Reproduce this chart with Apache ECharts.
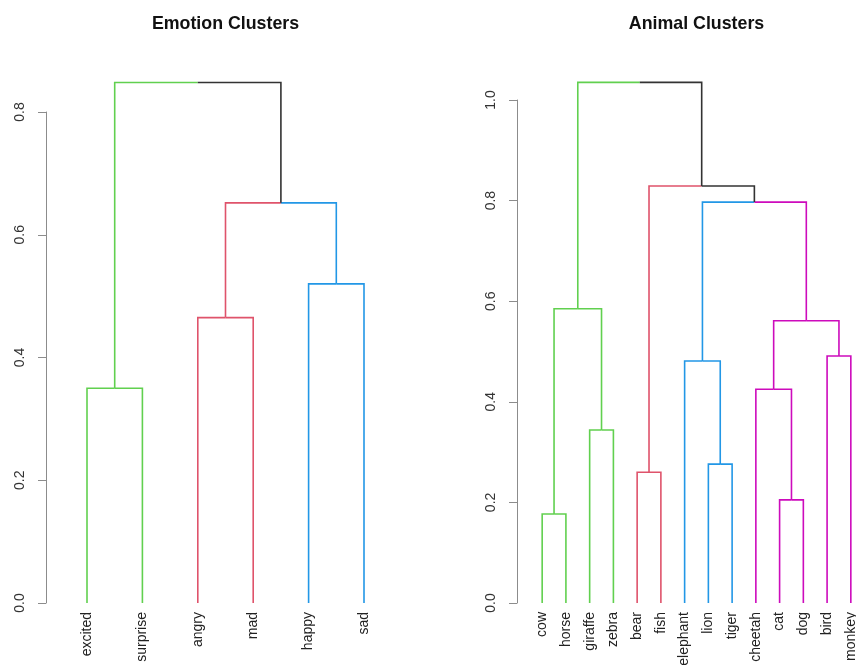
<!DOCTYPE html>
<html>
<head>
<meta charset="utf-8">
<script src="https://cdn.jsdelivr.net/npm/echarts@6/dist/echarts.min.js"></script>
<style>
  html, body { margin: 0; padding: 0; background: #ffffff; }
  #chart { width: 856px; height: 665px; }
</style>
</head>
<body>
<div id="chart"></div>
<script>
// ---- Emotion dendrogram (hclust-style merge table: negative = leaf, positive = earlier merge) ----
const emotionLabels  = ['excited', 'surprise', 'angry', 'mad', 'happy', 'sad'];
const emotionMerge   = [[-1, -2], [-3, -4], [-5, -6], [2, 3], [1, 4]];
const emotionHeights = [0.35, 0.465, 0.52, 0.652, 0.848];
const emotionGroups  = [0, 0, 1, 1, 2, 2];
const emotionTicks   = [0, 0.2, 0.4, 0.6, 0.8];

// ---- Animal dendrogram ----
const animalLabels  = ['cow', 'horse', 'giraffe', 'zebra', 'bear', 'fish', 'elephant',
                       'lion', 'tiger', 'cheetah', 'cat', 'dog', 'bird', 'monkey'];
const animalMerge   = [[-1, -2], [-11, -12], [-5, -6], [-8, -9], [-3, -4], [-10, 2], [-7, 4],
                       [-13, -14], [6, 8], [1, 5], [7, 9], [3, 11], [10, 12]];
const animalHeights = [0.177, 0.205, 0.26, 0.276, 0.344, 0.425, 0.481,
                       0.491, 0.561, 0.585, 0.797, 0.829, 1.035];
const animalGroups  = [0, 0, 0, 0, 1, 1, 2, 2, 2, 3, 3, 3, 3, 3];
const animalTicks   = [0, 0.2, 0.4, 0.6, 0.8, 1.0];

const branchColors = ['#61D04F', '#DF536B', '#2297E6', '#CD0BBC'];
const trunkColor   = '#333333';
const FONT = '"Liberation Sans", Arial, Helvetica, sans-serif';

// Turn a merge table into elbow edges: [parentX, parentH, childX, childH, colorGroup]
function buildEdges(merge, heights, groups) {
  const nodes = [];
  const info = ref => ref < 0
    ? { x: -ref, h: 0, group: groups[-ref - 1] }
    : nodes[ref - 1];
  const edges = [];
  merge.forEach((pair, k) => {
    const a = info(pair[0]), b = info(pair[1]);
    const x = (a.x + b.x) / 2, h = heights[k];
    [a, b].forEach(c => edges.push([x, h, c.x, c.h, c.group]));
    nodes.push({ x, h, group: a.group === b.group ? a.group : -1 });
  });
  return edges;
}

function renderEdge(params, api) {
  const p0 = api.coord([api.value(0), api.value(1)]);
  const p1 = api.coord([api.value(2), api.value(1)]);
  const p2 = api.coord([api.value(2), api.value(3)]);
  const g = api.value(4);
  return {
    type: 'polyline',
    shape: { points: [p0, p1, p2] },
    style: { stroke: g < 0 ? trunkColor : branchColors[g], lineWidth: 1.6, fill: null }
  };
}

function yAxisFor(gridIndex, ticks, offset) {
  return {
    type: 'value', gridIndex,
    min: ticks[0], max: ticks[ticks.length - 1], interval: ticks[1] - ticks[0],
    offset,
    axisLine: { show: true, lineStyle: { color: '#8c8c8c', width: 1 } },
    axisTick: { show: true, length: 8, lineStyle: { color: '#8c8c8c', width: 1 } },
    axisLabel: { rotate: 90, margin: 19, fontSize: 14, color: '#333', fontFamily: FONT,
                 formatter: v => v.toFixed(1) },
    splitLine: { show: false }
  };
}

function labelAxisFor(gridIndex, labels) {
  return {
    type: 'category', gridIndex, data: labels, boundaryGap: true, position: 'bottom',
    axisLine: { show: false }, axisTick: { show: false },
    axisLabel: { rotate: 90, margin: 9, fontSize: 14, color: '#222', interval: 0, fontFamily: FONT }
  };
}

function treeAxisFor(gridIndex, n) {
  return { type: 'value', gridIndex, min: 0.5, max: n + 0.5, show: false, position: 'bottom' };
}

const chart = echarts.init(document.getElementById('chart'), null, { renderer: 'canvas' });
chart.setOption({
  animation: false,
  backgroundColor: '#ffffff',
  textStyle: { fontFamily: FONT },
  title: [
    { text: 'Emotion Clusters', left: 225.5, top: 15, textAlign: 'center', padding: 0,
      textStyle: { fontSize: 17.8, fontWeight: 'bold', color: '#111', fontFamily: FONT } },
    { text: 'Animal Clusters', left: 696.5, top: 15, textAlign: 'center', padding: 0,
      textStyle: { fontSize: 17.8, fontWeight: 'bold', color: '#111', fontFamily: FONT } }
  ],
  grid: [
    { left: 59.3, width: 332.4, top: 112, bottom: 62, containLabel: false, outerBoundsMode: 'none' },
    { left: 530.3, width: 332.4, top: 100, bottom: 62, containLabel: false, outerBoundsMode: 'none' }
  ],
  xAxis: [
    labelAxisFor(0, emotionLabels),
    treeAxisFor(0, emotionLabels.length),
    labelAxisFor(1, animalLabels),
    treeAxisFor(1, animalLabels.length)
  ],
  yAxis: [
    yAxisFor(0, emotionTicks, 13.3),
    yAxisFor(1, animalTicks, 13.3)
  ],
  series: [
    { type: 'custom', xAxisIndex: 1, yAxisIndex: 0, clip: false, silent: true,
      encode: { x: [0, 2], y: [1, 3] },
      data: buildEdges(emotionMerge, emotionHeights, emotionGroups), renderItem: renderEdge },
    { type: 'custom', xAxisIndex: 3, yAxisIndex: 1, clip: false, silent: true,
      encode: { x: [0, 2], y: [1, 3] },
      data: buildEdges(animalMerge, animalHeights, animalGroups), renderItem: renderEdge }
  ]
});
</script>
</body>
</html>
